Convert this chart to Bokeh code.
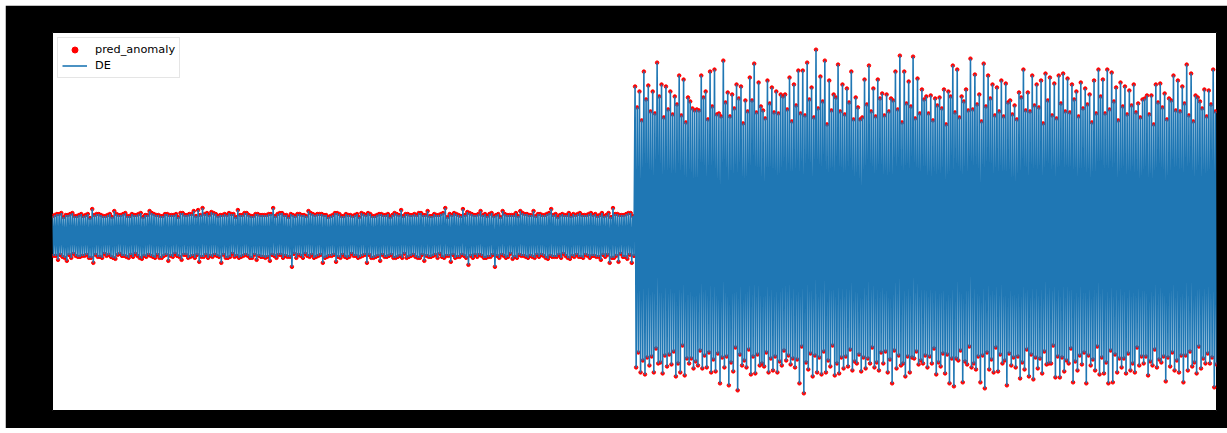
from bokeh.plotting import figure
from bokeh.models import Range1d, Legend, LegendItem, ColumnDataSource
from bokeh.embed import file_html
from bokeh.resources import INLINE

# ---- data ----
# visible peak / trough of each oscillation (envelope), first half (low amplitude)
top_1 = [
    1.9, 2.1, 2.2, 2.0, 2.1, 1.9, 2.0, 1.9, 2.1, 2.6, 2.1, 2.0,
    1.9, 2.1, 2.4, 2.0, 2.1, 1.9, 2.1, 2.0, 2.2, 2.0, 2.4, 2.1,
    2.0, 1.9, 2.1, 2.0, 2.1, 2.2, 2.0, 2.1, 2.4, 2.5, 2.7, 2.2,
    2.3, 2.1, 2.0, 2.1, 2.2, 2.1, 2.5, 2.0, 2.2, 1.9, 2.1, 2.0,
    2.0, 2.1, 2.7, 2.1, 2.2, 2.0, 2.1, 1.9, 2.1, 2.0, 2.4, 2.1,
    2.1, 2.1, 2.0, 1.9, 2.2, 2.1, 1.9, 2.0, 1.9, 2.1, 2.2, 2.0,
    2.1, 1.9, 2.1, 2.0, 2.1, 2.0, 2.1, 2.5, 2.1, 2.0, 2.1, 2.2,
    2.0, 2.4, 1.9, 2.0, 2.1, 2.7, 2.1, 2.2, 2.0, 2.6, 2.3, 2.1,
    2.0, 2.4, 2.1, 2.1, 1.9, 2.1, 2.4, 2.0, 2.0, 2.2, 2.4, 2.1,
    2.0, 2.4, 2.1, 2.0, 2.1, 2.6, 2.1, 2.0, 2.0, 2.2, 2.1, 2.1,
    2.0, 2.0, 2.2, 2.1, 2.0, 1.9, 2.2, 2.7, 2.1, 2.0, 2.1, 2.2,
]
bottom_1 = [
    -2.1, -2.5, -2.2, -2.6, -2.3, -2.1, -2.2, -2.1, -2.3, -2.8, -2.2, -2.3,
    -2.1, -2.2, -2.4, -1.9, -2.1, -2.3, -2.2, -2.1, -2.4, -2.2, -2.1, -2.3,
    -2.3, -2.1, -2.6, -2.2, -2.1, -2.5, -2.0, -2.2, -2.3, -2.7, -2.2, -2.3,
    -2.2, -2.1, -2.8, -2.3, -2.2, -2.2, -2.3, -2.1, -2.1, -2.3, -2.5, -2.2,
    -2.3, -2.6, -2.1, -2.0, -2.3, -2.2, -3.2, -2.3, -2.1, -1.9, -2.2, -2.3,
    -2.1, -2.8, -2.2, -2.1, -2.7, -2.3, -2.2, -2.2, -2.1, -2.3, -2.1, -2.8,
    -2.3, -2.2, -2.6, -2.2, -2.1, -2.3, -2.2, -2.3, -2.3, -2.1, -2.2, -2.3,
    -2.6, -2.2, -2.1, -2.3, -2.2, -2.1, -2.7, -2.3, -2.2, -2.1, -3.0, -2.3,
    -2.2, -2.1, -2.3, -2.2, -3.2, -2.3, -2.1, -2.2, -2.4, -2.3, -2.1, -2.2,
    -2.1, -2.3, -2.2, -2.1, -2.4, -2.2, -2.2, -2.3, -2.1, -2.4, -2.2, -2.2,
    -2.3, -2.1, -2.1, -2.2, -2.5, -2.2, -2.8, -2.3, -2.7, -2.2, -2.4, -2.8,
]
# second oscillation that follows each visible one (mostly inside the band)
inner_top_1 = [
    2.0, 2.1, 1.8, 2.0, 2.2, 1.9, 2.1, 2.0, 1.7, 2.0, 2.1, 1.9,
    2.0, 1.8, 2.1, 2.0, 2.2, 1.9, 2.0, 2.1, 1.8, 2.0, 2.2, 2.0,
    1.9, 2.1, 2.0, 2.0, 1.8, 2.2, 2.0, 2.1, 1.9, 2.0, 2.1, 2.0,
    2.2, 1.9, 2.0, 2.0, 2.1, 1.8, 2.0, 2.2, 2.0, 1.9, 2.1, 2.0,
    2.0, 2.1, 1.9, 2.2, 2.0, 1.8, 2.0, 2.1, 2.0, 1.9, 2.2, 2.0,
    2.1, 2.0, 1.8, 2.0, 2.2, 1.9, 2.1, 2.0, 2.0, 1.8, 2.1, 2.2,
    1.9, 2.0, 2.1, 2.0, 1.8, 2.2, 2.0, 1.9, 2.1, 2.0, 2.0, 2.2,
    2.0, 1.9, 2.1, 2.0, 2.2, 1.8, 2.0, 2.1, 1.9, 2.0, 2.2, 2.0,
    2.1, 2.0, 1.9, 2.2, 2.0, 1.8, 2.1, 2.0, 2.0, 1.9, 2.2, 2.1,
    2.0, 1.9, 2.1, 2.0, 2.2, 2.0, 1.8, 2.1, 2.0, 1.9, 2.0, 2.2,
    2.0, 2.1, 2.0, 1.9, 2.2, 2.0, 1.8, 2.1, 2.0, 2.0, 2.2, 1.9,
]
inner_bottom_1 = [
    -2.1, -2.0, -2.3, -2.0, -1.9, -2.2, -2.1, -2.0, -2.3, -2.0, -2.2, -1.9,
    -2.0, -2.3, -2.0, -2.1, -2.2, -2.0, -1.9, -2.3, -2.1, -2.0, -2.2, -2.0,
    -2.3, -2.0, -2.1, -1.9, -2.2, -2.0, -2.3, -2.1, -2.0, -2.2, -2.0, -2.1,
    -2.0, -2.2, -2.0, -2.3, -1.9, -2.1, -2.2, -2.0, -2.3, -2.0, -2.1, -2.2,
    -2.2, -2.0, -2.3, -2.0, -2.1, -2.2, -1.9, -2.0, -2.3, -2.1, -2.0, -2.2,
    -2.0, -2.3, -2.1, -2.0, -2.2, -2.0, -2.3, -1.9, -2.1, -2.2, -2.0, -2.0,
    -2.3, -2.1, -2.0, -2.2, -2.0, -2.3, -2.1, -1.9, -2.2, -2.0, -2.3, -2.0,
    -2.1, -2.2, -2.0, -1.9, -2.3, -2.1, -2.0, -2.2, -2.0, -2.3, -2.1, -2.0,
    -2.0, -2.3, -2.2, -2.0, -2.1, -2.0, -2.3, -1.9, -2.2, -2.0, -2.1, -2.3,
    -2.2, -2.0, -2.0, -2.3, -2.1, -2.2, -2.0, -1.9, -2.3, -2.1, -2.0, -2.2,
    -2.0, -2.3, -2.1, -2.2, -2.0, -2.0, -2.3, -2.1, -1.9, -2.2, -2.0, -2.1,
]
# second half (high amplitude)
top_2 = [
    14.9, 14.4, 16.4, 15.0, 14.4, 17.3, 15.1, 14.9, 14.4, 13.9,
    16.0, 15.6, 13.8, 12.7, 12.6, 16.0, 14.4, 16.4, 16.6, 12.2,
    17.5, 14.3, 14.1, 15.1, 14.9, 13.5, 15.8, 17.2, 15.3, 12.5,
    15.5, 14.8, 14.4, 14.1, 14.1, 15.8, 15.1, 16.5, 16.5, 17.3,
    14.8, 18.6, 15.9, 17.5, 15.5, 14.1, 17.1, 15.1, 14.7, 16.4,
    13.8, 11.6, 15.6, 17.0, 14.7, 15.6, 14.2, 14.1, 13.7, 16.4,
    18.0, 16.4, 15.4, 17.9, 15.7, 14.6, 13.9, 14.0, 13.7,
    13.8, 14.6, 14.4, 17.0, 16.6, 13.9, 14.6, 17.7, 16.1, 14.1,
    17.2, 16.0, 15.1, 14.8, 15.5, 15.2, 13.5, 13.0, 14.3, 16.6,
    14.3, 16.0, 15.1, 15.5, 16.2, 15.8, 15.2, 16.0, 16.2, 15.7,
    15.1, 14.4, 15.3, 14.7, 14.1, 15.5, 16.6, 15.6, 16.6, 16.3,
    14.8, 15.3, 14.9, 14.5, 15.1, 13.2, 13.6, 14.0, 14.0, 15.1,
    15.2, 14.2, 13.7, 16.0, 15.5, 14.9, 17.1, 16.2, 14.0, 13.4,
    14.6, 14.5, 16.6,
]
bottom_2 = [
    -13.3, -13.8, -14.0, -13.1, -13.8, -12.9, -13.9, -13.2, -13.0,
    -14.2, -13.8, -14.1, -12.9, -13.4, -13.1, -13.4, -13.3, -13.8,
    -13.7, -14.9, -13.3, -15.1, -13.7, -15.6, -13.1, -13.3, -14.0, -13.9,
    -13.1, -13.2, -13.8, -13.6, -13.8, -13.1, -12.6, -13.0, -13.3,
    -14.9, -15.9, -13.5, -14.2, -13.8, -14.0, -13.8, -13.2, -14.1, -13.9,
    -13.4, -13.2, -13.6, -12.9, -13.7, -13.4, -12.9, -13.3, -13.6,
    -12.9, -13.8, -14.9, -13.4, -13.1, -14.2, -13.8, -12.4, -13.0, -12.9,
    -13.3,
    -12.9, -14.0, -13.2, -13.9, -14.9, -15.2, -12.6, -14.8, -13.0, -13.3,
    -13.5, -14.8, -15.4, -13.5, -13.8, -13.7, -12.9, -15.1,
    -13.1, -13.3, -14.4, -13.5, -14.2, -14.5, -13.4, -13.9, -13.0, -12.9,
    -14.3, -14.3, -13.7, -12.9, -14.8, -13.6, -13.0, -14.9, -13.1, -13.6,
    -14.0, -13.9, -14.9, -14.8, -13.8, -13.3, -13.9, -13.6, -13.8,
    -13.1, -12.9, -14.1, -13.1, -13.3, -12.8, -14.7, -13.2, -13.6,
    -13.8, -14.8, -13.6, -13.2, -13.9, -13.4, -12.9, -12.9, -15.3,
]
inner_top_2 = [
    12.8, 11.5, 13.6, 12.4, 12.2, 13.9, 11.8, 12.6, 12.1, 13.1, 12.0, 11.3,
    13.4, 12.5, 12.5, 13.8, 11.6, 12.9, 12.1, 11.9, 13.3, 11.9, 12.7, 13.7,
    11.2, 12.4, 13.5, 12.3, 12.9, 11.7, 13.2, 12.3, 12.2, 13.9, 12.6, 11.4,
    13.0, 12.2, 12.0, 13.6, 11.8, 12.7, 13.4, 11.1, 12.5, 13.8, 12.4, 12.1,
    13.3, 11.6, 12.8, 11.8, 13.1, 12.4, 11.9, 13.7, 12.0, 12.4, 13.5, 12.6,
    11.3, 13.2, 12.9, 11.7, 12.2, 13.6, 12.2, 11.5, 13.0, 12.7, 11.1, 13.9,
    12.3, 11.8, 13.4, 12.5, 12.6, 13.1, 11.4, 12.9, 13.7, 12.0, 12.4, 11.9,
    13.3, 12.1, 11.6, 13.8, 12.5, 12.4, 13.0, 12.8, 11.2, 13.5, 12.0, 11.7,
    13.2, 12.4, 12.3, 13.6, 11.9, 12.7, 13.1, 11.3, 12.2, 13.9, 12.2, 12.6,
    13.4, 11.5, 12.9, 12.1, 13.0, 12.3, 11.8, 13.7, 12.1, 11.1, 13.3, 12.8,
    11.6, 13.5, 12.5, 12.4, 13.2, 12.0, 11.4, 13.8, 12.7, 11.9, 13.1, 12.4,
]
inner_bottom_2 = [
    -11.8, -12.6, -12.3, -12.2, -11.4, -12.8, -12.1, -12.0, -11.7, -12.9, -11.1, -12.4,
    -12.4, -12.7, -11.6, -12.1, -11.8, -12.5, -11.9, -12.3, -12.2, -12.8, -11.3, -12.0,
    -12.6, -11.5, -12.2, -12.0, -12.9, -11.8, -12.4, -12.2, -12.7, -11.6, -12.1, -12.4,
    -12.5, -11.2, -12.8, -11.9, -12.1, -12.3, -11.7, -12.6, -11.1, -12.9, -12.3, -12.2,
    -11.5, -12.7, -12.0, -12.3, -12.4, -11.3, -12.8, -11.8, -11.7, -12.5, -11.6, -12.1,
    -12.9, -12.2, -12.3, -11.7, -12.6, -12.1, -12.2, -11.4, -12.8, -11.9, -12.0, -12.4,
    -12.4, -11.6, -12.7, -11.2, -12.9, -12.2, -12.1, -11.8, -12.5, -11.3, -12.0, -12.6,
    -11.9, -12.3, -12.2, -12.8, -11.5, -12.0, -12.3, -12.4, -11.7, -12.9, -11.1, -12.2,
    -12.3, -12.6, -11.4, -12.7, -12.1, -11.8, -12.1, -12.5, -11.2, -12.3, -12.8, -11.6,
    -12.0, -12.4, -12.4, -11.9, -12.9, -11.3, -12.2, -12.2, -12.7, -11.5, -12.5, -12.2,
    -12.3, -11.8, -12.6, -12.1, -12.1, -11.7, -12.8, -11.2, -12.4, -11.9, -12.3, -13.0,
]

series_labels = ["pred_anomaly", "DE"]

# assemble the DE series: visible peak, trough, then the following peak, trough
de = []
for t, b, it, ib in zip(top_1, bottom_1, inner_top_1, inner_bottom_1):
    de += [t, b, it, ib]
for t, b, it, ib in zip(top_2, bottom_2, inner_top_2, inner_bottom_2):
    de += [t, b, it, ib]
idx = list(range(len(de)))
pred_anomaly = list(de)  # every sample is flagged

src = ColumnDataSource(data=dict(x=idx, de=de, pa=pred_anomaly))

ymin, ymax = min(de), max(de)
pad = 0.05 * (ymax - ymin)

p = figure(
    width=1222, height=423,
    output_backend="svg", toolbar_location=None,
    x_range=Range1d(0, len(de) - 1),
    y_range=Range1d(ymin - pad, ymax + pad),
    min_border_left=47, min_border_right=11,
    min_border_top=27, min_border_bottom=18,
    border_fill_color="black", background_fill_color="white",
    outline_line_color="black",
)
p.margin = (5, 0, 0, 5)
p.xaxis.visible = False
p.yaxis.visible = False
p.grid.visible = False

r_pts = p.scatter("x", "pa", source=src, size=3.5, color="#ff0000", line_width=1)
r_line = p.line("x", "de", source=src, line_color="#1f77b4", line_width=1.6)

legend = Legend(
    items=[LegendItem(label=series_labels[0], renderers=[r_pts]),
           LegendItem(label=series_labels[1], renderers=[r_line])],
    location="top_left",
    margin=5, padding=4, spacing=1,
    glyph_width=25, glyph_height=15, label_height=15,
    label_standoff=8,
    label_text_font="DejaVu Sans", label_text_font_size="11.3px",
    label_text_color="#000000",
    border_line_color="#cccccc", border_line_width=1,
    background_fill_color="white", background_fill_alpha=0.8,
)
p.add_layout(legend)

open("out.html", "w").write(file_html(p, INLINE))
